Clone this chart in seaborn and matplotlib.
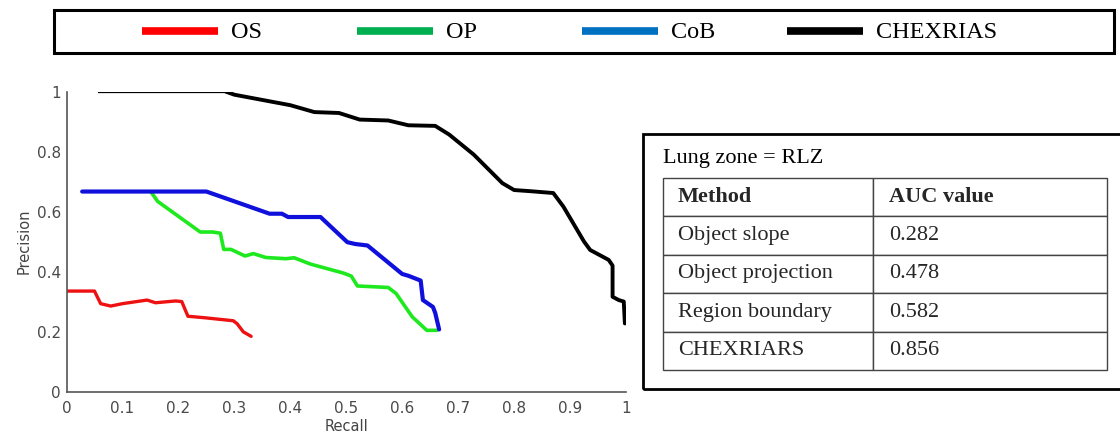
import matplotlib
matplotlib.use("Agg")
import matplotlib.pyplot as plt
import seaborn as sns
import pandas as pd
from matplotlib.patches import Rectangle
from matplotlib.lines import Line2D

# ---------------- data ----------------
os_recall = [0.0, 0.05, 0.061, 0.079, 0.10, 0.144, 0.159, 0.195, 0.206, 0.217, 0.247, 0.298, 0.305, 0.316, 0.33]
os_prec   = [0.335, 0.335, 0.293, 0.285, 0.293, 0.305, 0.296, 0.302, 0.300, 0.251, 0.246, 0.236, 0.226, 0.199, 0.184]

op_recall = [0.152, 0.163, 0.239, 0.261, 0.275, 0.281, 0.294, 0.319, 0.334, 0.356, 0.392, 0.407, 0.436, 0.495, 0.509, 0.52, 0.575, 0.589, 0.618, 0.644, 0.662]
op_prec   = [0.663, 0.634, 0.532, 0.532, 0.528, 0.474, 0.474, 0.452, 0.460, 0.447, 0.443, 0.446, 0.425, 0.395, 0.385, 0.352, 0.347, 0.327, 0.249, 0.204, 0.204]

cob_recall = [0.028, 0.25, 0.363, 0.385, 0.396, 0.454, 0.502, 0.516, 0.538, 0.60, 0.611, 0.633, 0.637, 0.655, 0.659, 0.666]
cob_prec   = [0.667, 0.667, 0.593, 0.593, 0.582, 0.582, 0.498, 0.492, 0.487, 0.392, 0.386, 0.370, 0.305, 0.282, 0.262, 0.207]

chx_thin_recall = [0.057, 0.285]
chx_thin_prec   = [1.0, 1.0]
chx_recall = [0.285, 0.30, 0.40, 0.443, 0.487, 0.524, 0.575, 0.611, 0.659, 0.684, 0.728, 0.779, 0.80, 0.83, 0.87, 0.888, 0.925, 0.936, 0.969, 0.976, 0.976, 0.987, 0.996, 0.998]
chx_prec   = [1.0, 0.99, 0.955, 0.932, 0.929, 0.907, 0.904, 0.888, 0.886, 0.857, 0.79, 0.695, 0.672, 0.668, 0.662, 0.617, 0.50, 0.472, 0.439, 0.42, 0.316, 0.305, 0.30, 0.227]

legend_labels = ["OS", "OP", "CoB", "CHEXRIAS"]
legend_colors = ["#ff0000", "#00b050", "#0070c0", "#000000"]

x_ticks = [0, 0.1, 0.2, 0.3, 0.4, 0.5, 0.6, 0.7, 0.8, 0.9, 1]
x_ticklabels = ["0", "0.1", "0.2", "0.3", "0.4", "0.5", "0.6", "0.7", "0.8", "0.9", "1"]
y_ticks = [0, 0.2, 0.4, 0.6, 0.8, 1]
y_ticklabels = ["0", "0.2", "0.4", "0.6", "0.8", "1"]

table_title = "Lung zone = RLZ"
table_cols = ["Method", "AUC value"]
table_methods = ["Object slope", "Object projection", "Region boundary", "CHEXRIARS"]
table_auc = ["0.282", "0.478", "0.582", "0.856"]

# ---------------- figure ----------------
sns.set_style("white")
plt.rcParams["font.family"] = ["DejaVu Sans"]

W, H = 1120, 433
fig = plt.figure(figsize=(W / 100, H / 100), dpi=100)

def fx(px):
    return px / W

def fy(py):
    return 1 - py / H

ax = fig.add_axes([fx(66.5), fy(391.5), fx(626 - 66.5), (391.5 - 91.7) / H])

series = [
    (os_recall, os_prec, "OS", "#ee1111", 2.4),
    (op_recall, op_prec, "OP", "#1ee81e", 2.6),
    (cob_recall, cob_prec, "CoB", "#1010dd", 3.0),
    (chx_recall, chx_prec, "CHEXRIAS", "#000000", 2.8),
    (chx_thin_recall, chx_thin_prec, "CHEXRIAS_thin", "#000000", 0.9),
]
for xs, ys, name, col, lw in series:
    df = pd.DataFrame({"Recall": xs, "Precision": ys})
    sns.lineplot(data=df, x="Recall", y="Precision", sort=False, estimator=None,
                 color=col, linewidth=lw, ax=ax)

ax.set_xlim(0, 1)
ax.set_ylim(0, 1)
ax.set_xticks(x_ticks)
ax.set_xticklabels(x_ticklabels)
ax.set_yticks(y_ticks)
ax.set_yticklabels(y_ticklabels)
ax.tick_params(direction="in", length=5, width=1, colors="#555555", labelsize=11,
               labelcolor="#4a4a4a")
ax.tick_params(axis="x", pad=7)
ax.tick_params(axis="y", pad=4)
for s in ["top", "right"]:
    ax.spines[s].set_visible(False)
for s in ["left", "bottom"]:
    ax.spines[s].set_color("#555555")
    ax.spines[s].set_linewidth(1.2)
ax.set_xlabel("Recall", fontsize=10.5, color="#444444", labelpad=2)
ax.set_ylabel("Precision", fontsize=10.5, color="#444444", labelpad=4)
ax.set_facecolor("white")

# ---------------- legend box (top) ----------------
fig.patches.append(Rectangle((fx(54), fy(53)), fx(1114 - 54), (53 - 10) / H,
                             transform=fig.transFigure, fill=False, edgecolor="black",
                             linewidth=2.2))
line_starts = [142, 357, 582, 787]
for lab, col, xs in zip(legend_labels, legend_colors, line_starts):
    fig.lines.append(Line2D([fx(xs), fx(xs + 76)], [fy(31), fy(31)],
                            transform=fig.transFigure, color=col, linewidth=5.5,
                            solid_capstyle="butt"))
    fig.text(fx(xs + 89), fy(33), lab, ha="left", va="center", fontsize=17.5,
             family="Liberation Serif", color="black")

# ---------------- table box (right) ----------------
fig.patches.append(Rectangle((fx(643), fy(389)), fx(1125 - 643), (389 - 134) / H,
                             transform=fig.transFigure, fill=False, edgecolor="black",
                             linewidth=2.0, clip_on=False))
fig.text(fx(663), fy(159), table_title, ha="left", va="center", fontsize=16,
         family="Liberation Serif", color="black")

tax = fig.add_axes([fx(663), fy(370), fx(1107 - 663), (370 - 178) / H])
tax.axis("off")
cell_text = [[m, a] for m, a in zip(table_methods, table_auc)]
tbl = tax.table(cellText=cell_text, colLabels=table_cols, bbox=[0, 0, 1, 1],
                colWidths=[(873 - 663) / 444, (1107 - 873) / 444],
                cellLoc="left", colLoc="left")
tbl.auto_set_font_size(False)
for (r, c), cell in tbl.get_celld().items():
    cell.set_edgecolor("#444444")
    cell.set_linewidth(1.0)
    cell.PAD = 0.07
    txt = cell.get_text()
    txt.set_fontfamily("Liberation Serif")
    txt.set_fontsize(16)
    if r == 0:
        txt.set_fontweight("bold")

fig.savefig("out.png", dpi=100, facecolor="white")
